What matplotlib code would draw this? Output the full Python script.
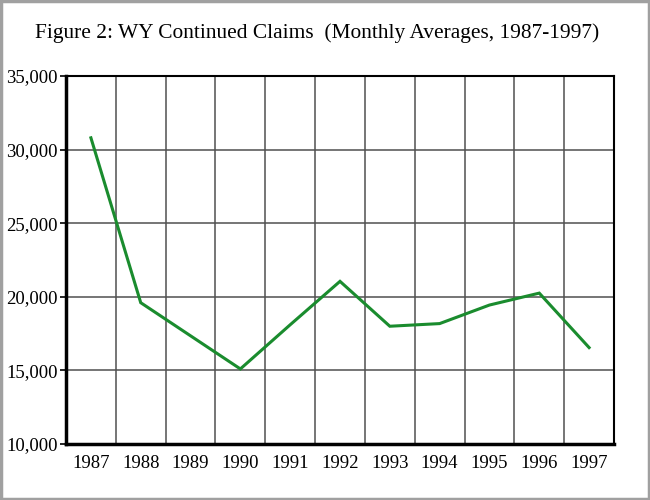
import matplotlib
matplotlib.use("Agg")
import matplotlib.pyplot as plt
from matplotlib.patches import Rectangle
from matplotlib.ticker import FuncFormatter

years = ["1987", "1988", "1989", "1990", "1991", "1992", "1993", "1994", "1995", "1996", "1997"]
claims = [30800, 19600, 17350, 15100, 18100, 21050, 18000, 18180, 19440, 20250, 16550]
yticks = [10000, 15000, 20000, 25000, 30000, 35000]
title = "Figure 2: WY Continued Claims  (Monthly Averages, 1987-1997)"

plt.rcParams['font.family'] = ['Liberation Serif', 'DejaVu Serif']

fig = plt.figure(figsize=(6.5, 5), dpi=100)
fig.patch.set_facecolor('white')
fig.add_artist(Rectangle((0.0015, 0.002), 0.997, 0.996, transform=fig.transFigure,
                         fill=False, edgecolor='#a0a0a0', linewidth=2.5))

ax = fig.add_axes([66/650, 1 - 444/500, (614-66)/650, (444-76)/500])
x = list(range(len(years)))
ax.plot(x, claims, color='#1a8c2e', linewidth=2.2, solid_joinstyle='miter', zorder=3)

ax.set_xlim(-0.5, len(years) - 0.5)
ax.set_ylim(yticks[0], yticks[-1])
ax.set_xticks(x)
ax.set_xticklabels(years)
ax.set_xticks([i + 0.5 for i in x[:-1]], minor=True)
ax.set_yticks(yticks)
ax.yaxis.set_major_formatter(FuncFormatter(lambda v, p: f"{int(v):,}"))

ax.grid(True, axis='y', which='major', color='#505050', linewidth=1.1)
ax.grid(True, axis='x', which='minor', color='#505050', linewidth=1.1)
ax.grid(False, axis='x', which='major')

ax.tick_params(axis='x', which='both', length=0, pad=8, labelsize=13.5)
ax.tick_params(axis='y', length=4, width=1.2, pad=2, labelsize=13.5)
for s in ['left', 'bottom']:
    ax.spines[s].set_linewidth(2.5)
for s in ['top', 'right']:
    ax.spines[s].set_linewidth(1.5)

fig.text(317/650, 1 - 33/500, title, ha='center', va='center', fontsize=15.4)

fig.savefig("out.png", dpi=100)
